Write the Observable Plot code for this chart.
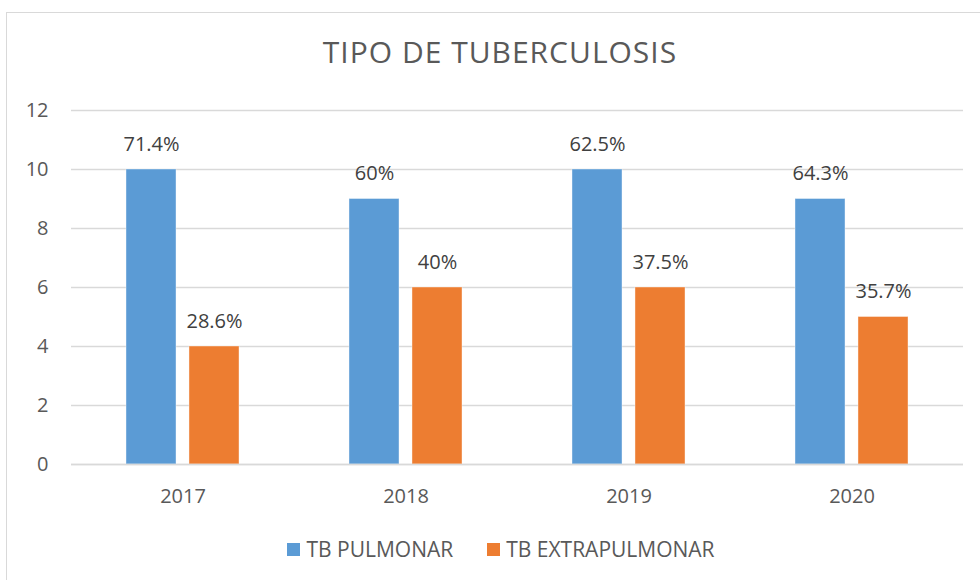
<!DOCTYPE html>
<html>
<head>
<meta charset="utf-8">
<script src="https://cdn.jsdelivr.net/npm/d3@7"></script>
<script src="https://cdn.jsdelivr.net/npm/@observablehq/plot@0.6"></script>
<style>
  html, body { margin: 0; padding: 0; background: #fff; }
  #wrap { position: relative; width: 980px; height: 580px; overflow: hidden; font-family: "Open Sans", sans-serif; }
  #border { position: absolute; left: 6px; top: 12px; width: 1000px; height: 600px; border: 1.5px solid #d9d9d9; box-sizing: border-box; }
  #title { position: absolute; left: 0; width: 1000px; top: 33px; text-align: center; font-size: 30px; letter-spacing: 1px; color: #595959; line-height: 38px; }
  #chart { position: absolute; left: 0; top: 90px; }
  #legend { position: absolute; left: 0; width: 1002px; top: 534px; display: flex; justify-content: center; gap: 34px; font-size: 21px; color: #595959; line-height: 30px; }
  .item { display: flex; align-items: center; gap: 6px; }
  .sw { width: 13px; height: 13px; display: inline-block; }
</style>
</head>
<body>
<div id="wrap">
  <div id="border"></div>
  <div id="title">TIPO DE TUBERCULOSIS</div>
  <div id="chart"></div>
  <div id="legend"></div>
</div>
<script>
const years = ["2017", "2018", "2019", "2020"];
const series = ["TB PULMONAR", "TB EXTRAPULMONAR"];
const colors = ["#5B9BD5", "#ED7D31"];
const pulmonar = [10, 9, 10, 9];
const extrapulmonar = [4, 6, 6, 5];
const pulmonarLabels = ["71.4%", "60%", "62.5%", "64.3%"];
const extraLabels = ["28.6%", "40%", "37.5%", "35.7%"];
const yTicks = [0, 2, 4, 6, 8, 10, 12];

const data = years.flatMap((y, i) => [
  {year: y, serie: series[0], value: pulmonar[i], label: pulmonarLabels[i]},
  {year: y, serie: series[1], value: extrapulmonar[i], label: extraLabels[i]}
]);

const chart = Plot.plot({
  width: 980,
  height: 424,
  marginLeft: 71,
  marginRight: 17,
  marginTop: 20,
  marginBottom: 50,
  style: {fontFamily: "Open Sans, sans-serif", fontSize: "20px", color: "#595959", background: "transparent", overflow: "visible"},
  fx: {domain: years, padding: 0, label: null, axis: "bottom", tickSize: 0, tickPadding: 24},
  x: {domain: series, paddingInner: 0.206, paddingOuter: 0.873, round: false, axis: null},
  y: {domain: [0, 12], ticks: yTicks, tickSize: 0, tickPadding: 23, label: null},
  color: {domain: series, range: colors},
  marks: [
    Plot.ruleY(yTicks, {stroke: "#d9d9d9", strokeWidth: 1.5}),
    Plot.barY(data, {fx: "year", x: "serie", y: "value", fill: "serie", stroke: "#ffffff", strokeOpacity: 0.4, strokeWidth: 1}),
    Plot.ruleY([0], {stroke: "#d9d9d9", strokeWidth: 1.5}),
    Plot.text(data, {fx: "year", x: "serie", y: "value", text: "label", dy: -25, fill: "#404040", fontSize: 20})
  ]
});
document.getElementById("chart").appendChild(chart);

const legend = document.getElementById("legend");
series.forEach((s, i) => {
  const item = document.createElement("div");
  item.className = "item";
  const sw = document.createElement("span");
  sw.className = "sw";
  sw.style.background = colors[i];
  const t = document.createElement("span");
  t.textContent = s;
  item.appendChild(sw);
  item.appendChild(t);
  legend.appendChild(item);
});
</script>
</body>
</html>
